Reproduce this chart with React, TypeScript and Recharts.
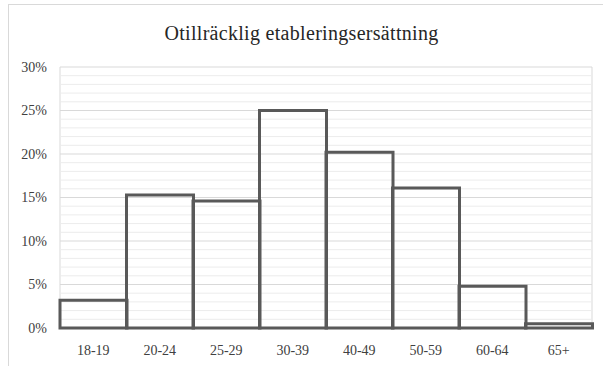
import React from 'react'
import { BarChart, Bar, XAxis, YAxis, CartesianGrid, ReferenceLine } from 'recharts'

const ageGroups = ['18-19', '20-24', '25-29', '30-39', '40-49', '50-59', '60-64', '65+']
const shares = [3.2, 15.3, 14.6, 25.0, 20.2, 16.1, 4.8, 0.5]
const yTicks = [0, 5, 10, 15, 20, 25, 30]
const title = 'Otillräcklig etableringsersättning'

const data = ageGroups.map((group, i) => ({ group, share: shares[i], pos: i + 0.5 }))

const yMax = yTicks[yTicks.length - 1]
// light 1% lines between the labelled 5% steps
const minorTicks = Array.from({ length: yMax + 1 }, (_, i) => i).filter((v) => !yTicks.includes(v))
// category boundaries for the vertical grid
const boundaryTicks = Array.from({ length: ageGroups.length + 1 }, (_, i) => i)

const font = '"Liberation Serif", "DejaVu Serif", serif'
const W = 603
const H = 366
const margin = { top: 67, right: 11, left: 0, bottom: 8 }
const layer: React.CSSProperties = { position: 'absolute', left: 0, top: 0 }

export default function App() {
  return (
    <div style={{ position: 'relative', width: W, height: H, background: '#fff' }}>
      <style>{'body{margin:0}'}</style>
      <div
        style={{
          position: 'absolute',
          left: 8,
          top: 4,
          right: 0,
          bottom: 0,
          borderTop: '1.5px solid #d9d9d9',
          borderLeft: '1.5px solid #d9d9d9',
        }}
      />
      <div
        style={{
          position: 'absolute',
          top: 22,
          width: W,
          textAlign: 'center',
          fontFamily: font,
          fontSize: 20,
          color: '#262626',
          letterSpacing: 0.3,
        }}
      >
        {title}
      </div>

      {/* grid and axes underneath */}
      <BarChart width={W} height={H} data={data} margin={margin} barCategoryGap={0} style={layer}>
        {minorTicks.map((v) => (
          <ReferenceLine key={v} yAxisId="main" xAxisId="main" y={v} stroke="#ececec" strokeWidth={1} />
        ))}
        <CartesianGrid xAxisId="grid" yAxisId="main" stroke="#d9d9d9" strokeWidth={1} />
        <XAxis
          xAxisId="main"
          dataKey="group"
          height={30}
          axisLine={{ stroke: '#bfbfbf' }}
          tickLine={false}
          tickMargin={11}
          tick={{ fontFamily: font, fontSize: 14, fill: '#404040' }}
        />
        <XAxis
          xAxisId="grid"
          dataKey="pos"
          type="number"
          domain={[0, ageGroups.length]}
          ticks={boundaryTicks}
          height={0}
          tick={false}
          axisLine={false}
          tickLine={false}
        />
        <YAxis
          yAxisId="main"
          width={60}
          domain={[0, yMax]}
          ticks={yTicks}
          tickFormatter={(v: number) => `${v}%`}
          axisLine={false}
          tickLine={false}
          tickSize={0}
          tickMargin={13}
          tick={{ fontFamily: font, fontSize: 14, fill: '#404040' }}
          interval={0}
        />
        {/* invisible copy so the axes have a series to scale against */}
        <Bar
          xAxisId="main"
          yAxisId="main"
          dataKey="share"
          fill="none"
          stroke="none"
          isAnimationActive={false}
        />
      </BarChart>

      {/* bars on top, same plot area */}
      <BarChart width={W} height={H} data={data} margin={margin} barCategoryGap={0} style={layer}>
        <XAxis dataKey="group" height={30} tick={false} axisLine={false} tickLine={false} />
        <YAxis width={60} domain={[0, yMax]} ticks={yTicks} tick={false} axisLine={false} tickLine={false} />
        <Bar
          dataKey="share"
          fill="none"
          stroke="#595959"
          strokeWidth={3}
          isAnimationActive={false}
        />
      </BarChart>
    </div>
  )
}
